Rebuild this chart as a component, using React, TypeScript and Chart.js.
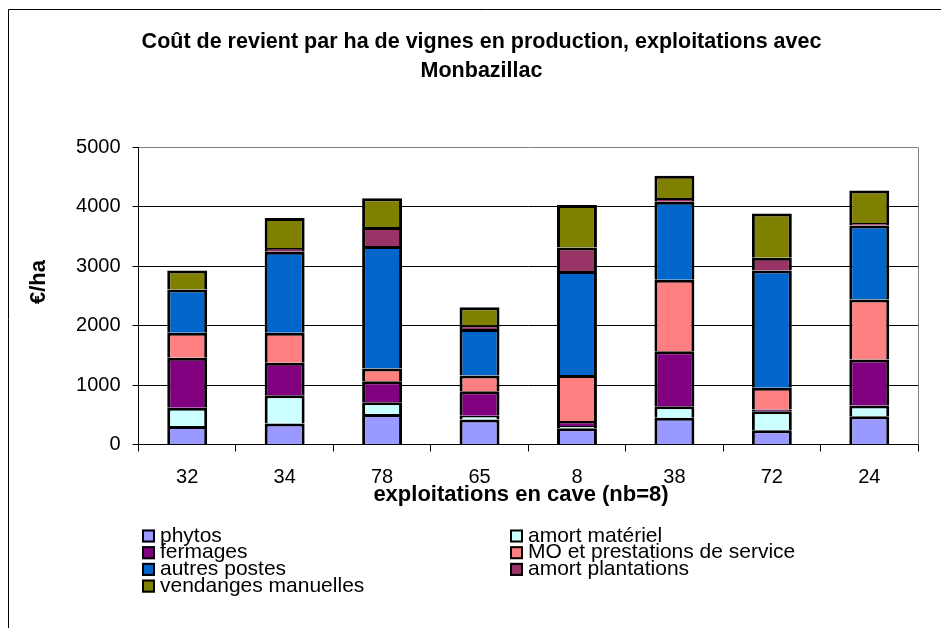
import React, { useEffect, useRef } from 'react';
import { Chart, registerables } from 'chart.js';

Chart.register(...registerables);

const categories = ['32', '34', '78', '65', '8', '38', '72', '24'];
const phytos = [310, 355, 515, 420, 275, 450, 240, 475];
const amortMateriel = [310, 475, 195, 65, 35, 195, 320, 180];
const fermages = [840, 545, 355, 410, 85, 925, 30, 775];
const moPrestations = [420, 505, 215, 265, 775, 1205, 365, 1010];
const autresPostes = [730, 1365, 2060, 785, 1750, 1310, 1975, 1245];
const amortPlantations = [0, 65, 320, 60, 395, 65, 215, 45];
const vendangesManuelles = [320, 505, 485, 305, 715, 375, 745, 545];

const seriesNames = [
  'phytos',
  'amort matériel',
  'fermages',
  'MO et prestations de service',
  'autres postes',
  'amort plantations',
  'vendanges manuelles',
];
const seriesValues = [phytos, amortMateriel, fermages, moPrestations, autresPostes, amortPlantations, vendangesManuelles];
const seriesColors = ['#9999FF', '#CCFFFF', '#800080', '#FF8080', '#0066CC', '#993366', '#808000'];

const yTicks = [0, 1000, 2000, 3000, 4000, 5000];
const titleLines = ['Coût de revient par ha de vignes en production, exploitations avec', 'Monbazillac'];
const xTitle = 'exploitations en cave (nb=8)';
const yTitle = '€/ha';

const FONT = '"Liberation Sans", Arial, sans-serif';

const decorPlugin = {
  id: 'decor',
  afterDraw(chart: any) {
    const ctx = chart.ctx as CanvasRenderingContext2D;
    const a = chart.chartArea;
    ctx.save();
    // outer frame
    ctx.strokeStyle = '#000';
    ctx.lineWidth = 1;
    ctx.beginPath();
    ctx.moveTo(8.5, 700);
    ctx.lineTo(8.5, 9.5);
    ctx.lineTo(1000, 9.5);
    ctx.stroke();
    // plot right border
    ctx.strokeStyle = '#808080';
    const rx = Math.round(a.right) + 0.5;
    ctx.beginPath();
    ctx.moveTo(rx, a.top);
    ctx.lineTo(rx, a.bottom);
    ctx.stroke();

    ctx.fillStyle = '#000';
    // main title
    ctx.font = 'bold 21.5px ' + FONT;
    ctx.textAlign = 'center';
    ctx.textBaseline = 'middle';
    titleLines.forEach((t, i) => ctx.fillText(t, 481.5, 42 + i * 29));

    // x axis title
    ctx.font = 'bold 22px ' + FONT;
    ctx.fillText(xTitle, 521, 495);

    // y axis title
    ctx.save();
    ctx.translate(39, 282);
    ctx.rotate(-Math.PI / 2);
    ctx.fillText(yTitle, 0, 0);
    ctx.restore();

    // legend
    ctx.font = '21px ' + FONT;
    ctx.textAlign = 'left';
    const colX = [142, 510];
    chart.data.datasets.forEach((ds: any, i: number) => {
      const col = i % 2;
      const row = Math.floor(i / 2);
      const x = colX[col];
      const y = 536 + row * 16.7;
      ctx.fillStyle = ds.backgroundColor;
      ctx.fillRect(x, y - 6.5, 13, 13);
      ctx.strokeStyle = '#000';
      ctx.lineWidth = 2;
      ctx.strokeRect(x + 1, y - 5.5, 11, 11);
      ctx.fillStyle = '#000';
      ctx.fillText(ds.label, x + 18, y);
    });
    ctx.restore();
  },
};

export default function App() {
  const canvasRef = useRef<HTMLCanvasElement | null>(null);

  useEffect(() => {
    const canvas = canvasRef.current;
    if (!canvas) return;
    const chart = new Chart(canvas, {
      type: 'bar',
      data: {
        labels: categories,
        datasets: seriesNames.map((name, i) => ({
          label: name,
          data: seriesValues[i],
          backgroundColor: seriesColors[i],
          borderColor: '#000000',
          borderWidth: 3,
          borderSkipped: 'start',
          barPercentage: 0.41,
          categoryPercentage: 1,
        })),
      },
      options: {
        responsive: false,
        animation: false,
        devicePixelRatio: 1,
        layout: { padding: { left: 0, top: 147.5, right: 45, bottom: 628 - 444.5 - 40 } },
        plugins: {
          legend: { display: false },
          title: { display: false },
          tooltip: { enabled: false },
        },
        scales: {
          x: {
            stacked: true,
            grid: {
              drawOnChartArea: false,
              drawTicks: true,
              tickLength: 7,
              color: '#000',
              offset: true,
            },
            border: { color: '#000', width: 1 },
            ticks: {
              color: '#000',
              font: { size: 20, family: FONT },
              padding: 14,
              maxRotation: 0,
              autoSkip: false,
            },
            afterFit: (s: any) => {
              s.height = 40;
            },
          },
          y: {
            stacked: true,
            min: 0,
            max: 5000,
            afterBuildTicks: (s: any) => {
              s.ticks = yTicks.map((v) => ({ value: v }));
            },
            ticks: {
              color: '#000',
              font: { size: 20, family: FONT },
              padding: 12,
              callback: (v: any) => String(v),
            },
            grid: {
              color: (c: any) => (c.tick && c.tick.value === 5000 ? '#808080' : '#000'),
              tickColor: '#000',
              tickLength: 6,
              lineWidth: 1,
            },
            border: { color: '#000', width: 1 },
            afterFit: (s: any) => {
              s.width = 138.5;
            },
          },
        },
      },
      plugins: [decorPlugin],
    });
    return () => chart.destroy();
  }, []);

  return (
    <div
      style={{
        position: 'fixed',
        left: 0,
        top: 0,
        width: 941,
        height: 628,
        overflow: 'hidden',
        background: '#fff',
      }}
    >
      <canvas ref={canvasRef} width={963} height={628} style={{ width: 963, height: 628, display: 'block' }} />
    </div>
  );
}
